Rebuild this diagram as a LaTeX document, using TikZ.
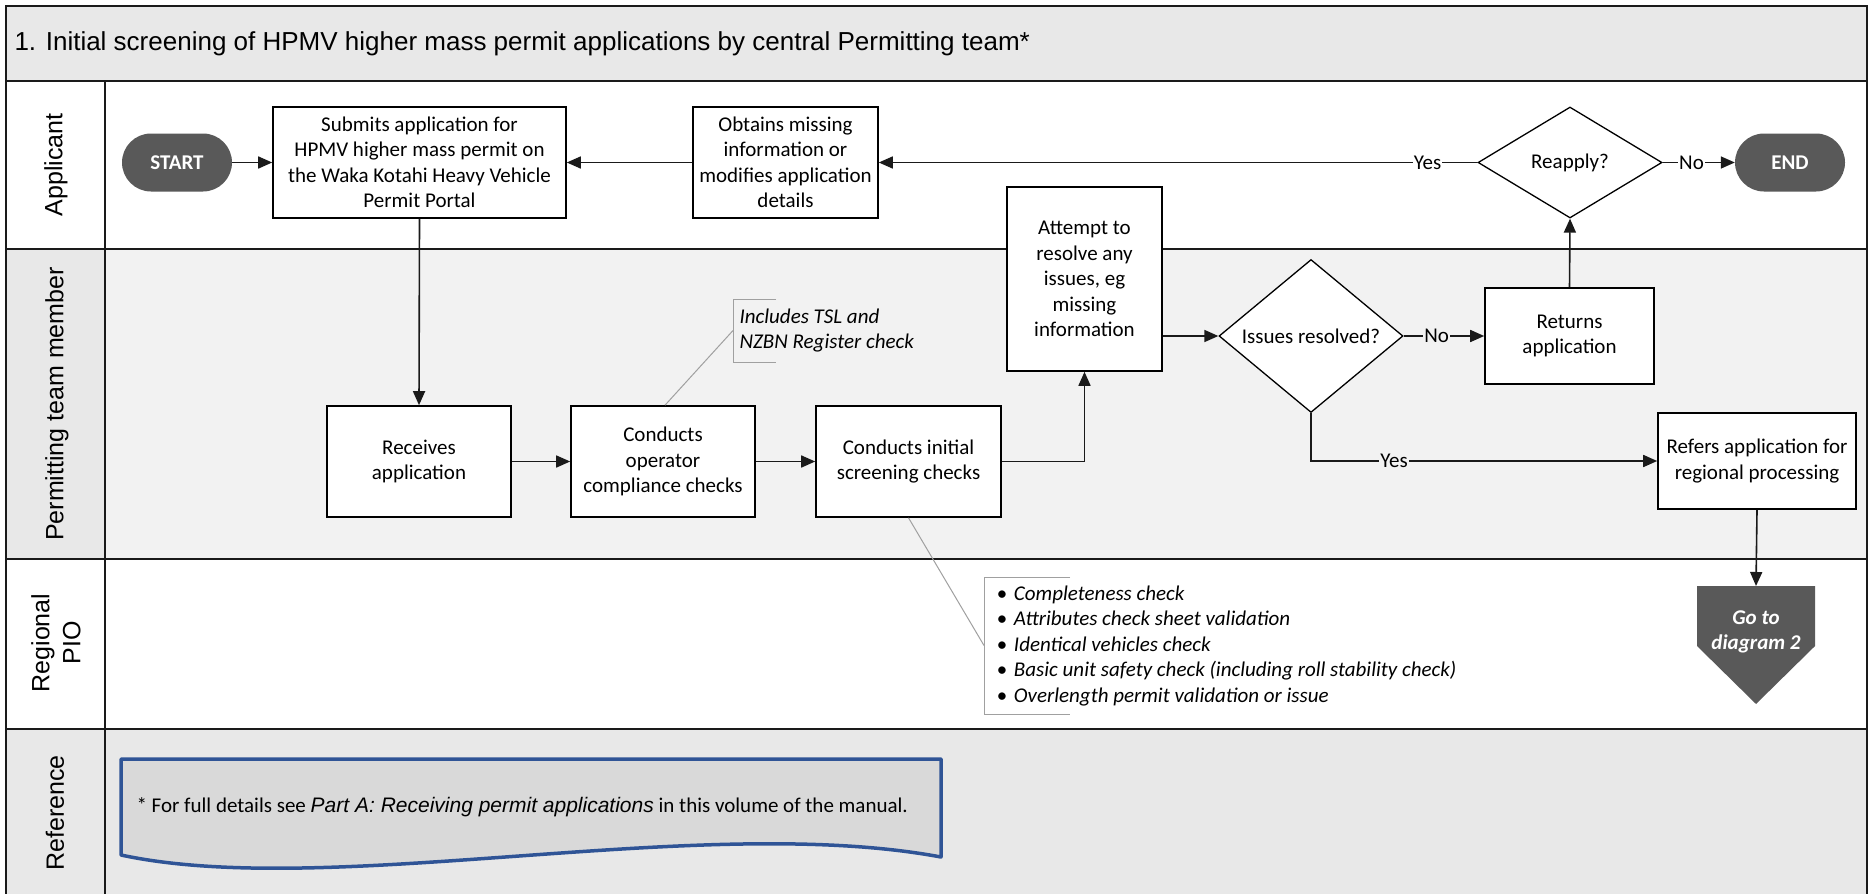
\documentclass[tikz,border=0pt]{standalone}
\usepackage{fontspec}
\setmainfont{Carlito}
\newfontfamily\arial{Liberation Sans}
\usetikzlibrary{arrows.meta,shapes.geometric}
\definecolor{dk}{HTML}{595959}
\definecolor{lanegrey}{HTML}{F2F2F2}
\definecolor{labgrey}{HTML}{E8E8E8}
\definecolor{refblue}{HTML}{2F5496}
\definecolor{reffill}{HTML}{D9D9D9}
\definecolor{notegrey}{HTML}{A0A0A0}
\definecolor{framec}{HTML}{1A1A1A}
\begin{document}
\begin{tikzpicture}[x=1pt,y=-1pt,
  every node/.style={font=\fontsize{21}{25.5}\selectfont},
  box/.style={draw=black, line width=1.6pt, fill=white, align=center, inner sep=3pt},
  term/.style={fill=dk, rounded corners=29pt, text=white, font=\fontsize{21}{25}\selectfont\bfseries, minimum width=110pt, minimum height=58pt},
  dec/.style={diamond, draw=black, fill=white, line width=1.3pt, inner sep=0pt, align=center},
  conn/.style={line width=1.6pt, draw=framec, -{Triangle[length=14pt,width=12pt]}},
  lab/.style={inner sep=1pt},
  notel/.style={draw=notegrey, line width=1pt},
  lanelab/.style={rotate=90, align=center, font=\arial\fontsize{25}{31}\selectfont},
  sep/.style={draw=framec, line width=2.2pt}
]
\useasboundingbox (0,0) rectangle (1871,894);
% lanes
\fill[labgrey] (6,6) rectangle (1867,81);
\fill[white] (6,81) rectangle (1867,249);
\fill[lanegrey] (105,249) rectangle (1867,559);
\fill[labgrey] (6,249) rectangle (105,559);
\fill[white] (6,559) rectangle (1867,729);
\fill[labgrey] (6,729) rectangle (1867,894);
\draw[sep] (6,894) -- (6,6) -- (1867,6) -- (1867,894);
\draw[sep] (6,81) -- (1867,81);
\draw[sep] (6,249) -- (1867,249);
\draw[sep] (6,559) -- (1867,559);
\draw[sep] (6,729) -- (1867,729);
\draw[sep] (105,81) -- (105,894);
% title and lane labels
\node[anchor=west, font=\arial\fontsize{26}{30}\selectfont] (title) at (11,43.5) {1. Initial screening of HPMV higher mass permit applications by central Permitting team*};
\node[lanelab] (lA) at (56,165) {Applicant};
\node[lanelab] (lP) at (57,404) {Permitting team member};
\node[lanelab] (lR) at (56,643) {Regional\\PIO};
\node[lanelab] (lF) at (55,813) {Reference};
% nodes
\node[term] (start) at (177,162.5) {START};
\node[box, minimum width=293pt, minimum height=111pt] (submit) at (419.5,162.5) {Submits application for\\HPMV higher mass permit on\\the Waka Kotahi Heavy Vehicle\\Permit Portal};
\node[box, minimum width=185pt, minimum height=111pt] (obtains) at (785.5,162.5) {Obtains missing\\information or\\modifies application\\details};
\node[dec, minimum width=184pt, minimum height=111pt] (reapply) at (1570,162.5) {Reapply?};
\node[term] (end) at (1790,162.5) {END};
\node[box, minimum width=184pt, minimum height=111pt] (receives) at (419,461.5) {Receives\\application};
\node[box, minimum width=184pt, minimum height=111pt] (operator) at (663,461.5) {Conducts\\operator\\compliance checks};
\node[box, minimum width=185pt, minimum height=111pt] (initial) at (908.5,461.5) {Conducts initial\\screening checks};
\node[box, minimum width=155pt, minimum height=184pt] (attempt) at (1084.5,279) {Attempt to\\resolve any\\issues, eg\\missing\\information};
\node[dec, minimum width=184pt, minimum height=110pt] (issues) at (1311,336) {Issues resolved?};
\node[box, minimum width=169pt, minimum height=96pt] (returns) at (1569.5,336) {Returns\\application};
\node[box, minimum width=198pt, minimum height=96pt] (refers) at (1757,461) {Refers application for\\regional processing};
% off-page connector
\fill[dk] (1697,586) -- (1815,586) -- (1815,646) -- (1756,704) -- (1697,646) -- cycle;
\coordinate (gotop) at (1756,586);
\node[text=white, align=center, font=\fontsize{21}{25.5}\selectfont\bfseries\itshape] (goto) at (1756,632) {Go to\\diagram 2};
% reference document
\draw[refblue, line width=3.5pt, fill=reffill, line join=round] (121,759) -- (941,759) -- (941,857) .. controls (700,812) and (330,900) .. (121,855) -- cycle;
\node[anchor=west] (reftext) at (133,807) {* For full details see {\arial\itshape\fontsize{21}{25}\selectfont Part A: Receiving permit applications} in this volume of the manual.};
% annotations
\draw[notel] (776,299) -- (733,299) -- (733,362) -- (776,362);
\coordinate (tslmid) at (733,330.5);
\node[anchor=west, align=left, font=\fontsize{21}{25.5}\selectfont\itshape] (tsl) at (736,330.5) {Includes TSL and\\NZBN Register check};
\draw[notel] (operator.north) ++(2,0) -- (tslmid);
\draw[notel] (1070,577) -- (984,577) -- (984,714) -- (1070,714);
\coordinate (bulmid) at (984,645.5);
\node[anchor=west, align=left, font=\fontsize{21}{25.5}\selectfont\itshape] (bullets) at (993,646) {\textbullet\hspace{7pt}Completeness check\\\textbullet\hspace{7pt}Attributes check sheet validation\\\textbullet\hspace{7pt}Identical vehicles check\\\textbullet\hspace{7pt}Basic unit safety check (including roll stability check)\\\textbullet\hspace{7pt}Overlength permit validation or issue};
\draw[notel] (initial.south) -- (bulmid);
% connectors
\draw[conn] (start) -- (submit);
\draw[conn] (obtains) -- (submit);
\draw[conn] (reapply.west) -- node[lab, pos=0.083, fill=white] {Yes} (obtains.east);
\draw[conn] (reapply.east) -- node[lab, pos=0.4, fill=white] {No} (end.west);
\draw[conn] (submit.south) -- (receives.north);
\draw[conn] (receives) -- (operator);
\draw[conn] (operator) -- (initial);
\draw[conn] (initial.east) -| (attempt.south);
\draw[conn] (attempt.east |- issues.west) -- (issues.west);
\draw[conn] (issues.east) -- node[lab, pos=0.41, fill=lanegrey] {No} (returns.west);
\draw[conn] (returns.north) -- (reapply.south);
\draw[conn] (issues.south) |- node[lab, pos=0.62, fill=lanegrey] {Yes} (refers.west);
\draw[conn] (refers.south) -- (gotop);
\end{tikzpicture}
\end{document}
